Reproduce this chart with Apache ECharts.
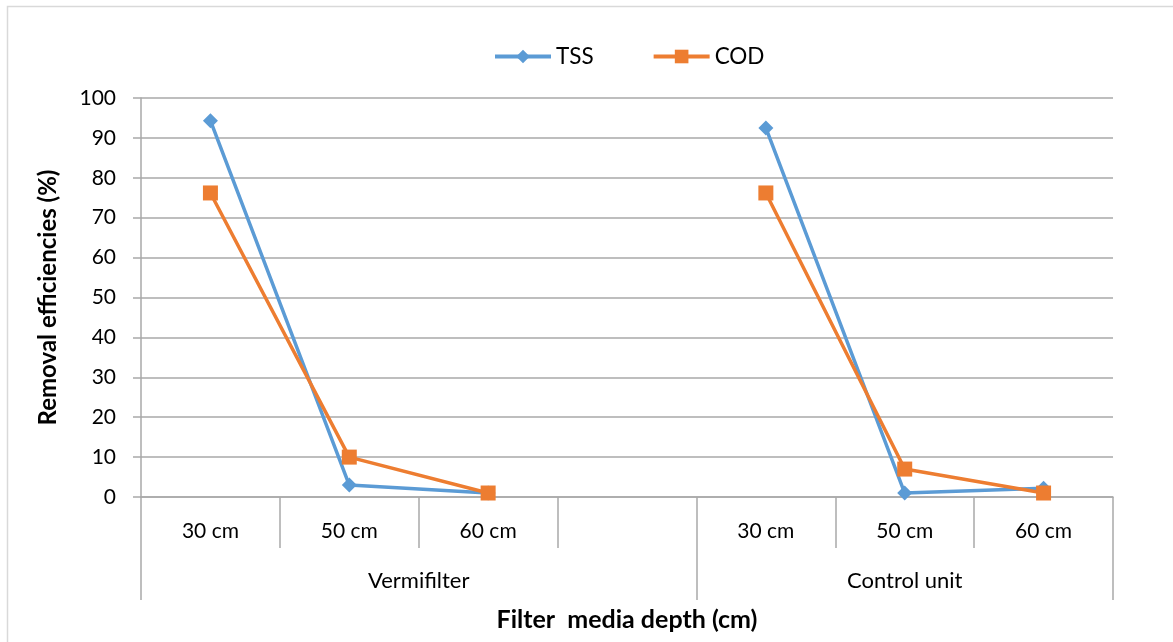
<!DOCTYPE html>
<html>
<head>
<meta charset="utf-8">
<script src="https://cdn.jsdelivr.net/npm/echarts@6/dist/echarts.min.js"></script>
<style>html,body{margin:0;padding:0;background:#fff}#c{width:1173px;height:642px}</style>
</head>
<body>
<div id="c"></div>
<script>
const categories = ['30 cm', '50 cm', '60 cm', '', '30 cm', '50 cm', '60 cm'];
const groups = ['Vermifilter', 'Control unit'];
const groupSizes = [4, 3];
const tss = [94.3, 3, 1, null, 92.5, 1, 2.2];
const cod = [76.2, 10, 1, null, 76.2, 7, 1];
const yTicks = [0, 10, 20, 30, 40, 50, 60, 70, 80, 90, 100];

const FONT = 'Lato';
const boundaries = [0];
const centers = [];
groupSizes.forEach(s => { const b = boundaries[boundaries.length - 1]; centers.push(b + s / 2); boundaries.push(b + s); });
const grey = '#a9a9a9';

const chart = echarts.init(document.getElementById('c'));
chart.setOption({
  animation: false,
  textStyle: { fontFamily: FONT },
  graphic: [{ type: 'rect', shape: { x: 7.5, y: 6.5, width: 1300, height: 800 }, style: { fill: 'none', stroke: '#d9d9d9', lineWidth: 1.5 }, silent: true }],
  legend: {
    left: 488, top: 40, itemWidth: 56, itemHeight: 17, itemGap: 58,
    textStyle: { fontSize: 22.5, color: '#000', fontFamily: FONT },
    lineStyle: { width: 4 },
    data: ['TSS', 'COD']
  },
  grid: { left: 141, right: 60, top: 98, bottom: 145 },
  xAxis: [{
    type: 'category', data: categories, boundaryGap: true,
    axisLine: { lineStyle: { color: grey, width: 1.5 } },
    axisTick: { show: true, length: 51, lineStyle: { color: grey, width: 1.5 } },
    axisLabel: { fontSize: 21, color: '#000', margin: 24, fontFamily: FONT },
    splitLine: { show: false }
  }, {
    type: 'value', min: 0, max: categories.length, position: 'bottom',
    axisLine: { show: false },
    axisTick: { show: true, length: 103, customValues: boundaries, lineStyle: { color: grey, width: 1.5 } },
    axisLabel: { fontSize: 22, color: '#000', margin: 73, fontFamily: FONT, customValues: centers,
      formatter: v => groups[centers.indexOf(v)] },
    splitLine: { show: false },
    name: 'Filter  media depth (cm)', nameLocation: 'middle', nameGap: 110,
    nameTextStyle: { fontSize: 25, fontWeight: 'bold', color: '#000', fontFamily: FONT }
  }],
  yAxis: {
    type: 'value', min: 0, max: 100, interval: 10,
    axisLine: { show: true, lineStyle: { color: grey, width: 1.5 } },
    axisTick: { show: true, length: 8, lineStyle: { color: grey, width: 1.5 } },
    axisLabel: { fontSize: 21, color: '#000', margin: 25, fontFamily: FONT,
      formatter: v => yTicks.includes(v) ? String(v) : '' },
    splitLine: { lineStyle: { color: grey, width: 1.5 } },
    name: 'Removal efficiencies (%)', nameLocation: 'middle', nameGap: 81, nameRotate: 90,
    nameTextStyle: { fontSize: 24, fontWeight: 'bold', color: '#000', fontFamily: FONT }
  },
  series: [{
    name: 'TSS', type: 'line', data: tss, xAxisIndex: 0,
    symbol: 'diamond', symbolSize: 15, connectNulls: false,
    itemStyle: { color: '#5b9bd5' }, lineStyle: { color: '#5b9bd5', width: 3.5 }
  }, {
    name: 'COD', type: 'line', data: cod, xAxisIndex: 0,
    symbol: 'rect', symbolSize: 15, connectNulls: false,
    itemStyle: { color: '#ed7d31' }, lineStyle: { color: '#ed7d31', width: 3.5 }
  }]
});
</script>
</body>
</html>
